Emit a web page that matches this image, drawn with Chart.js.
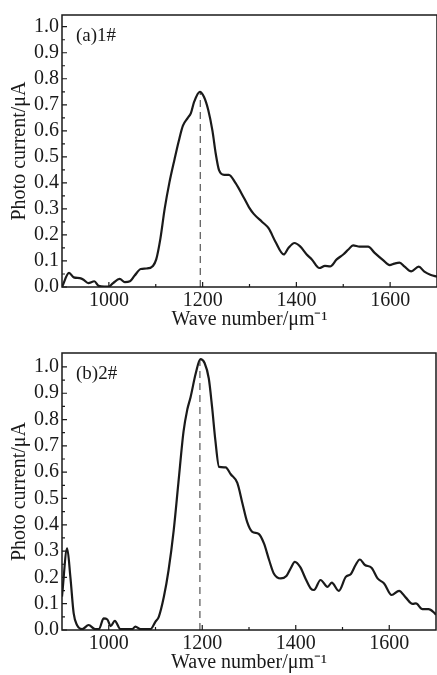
<!DOCTYPE html>
<html lang="en">
<head>
<meta charset="utf-8"/>
<title>Photo current vs wave number</title>
<script src="https://cdn.jsdelivr.net/npm/chart.js"></script>
<style>
    body {
        margin: 0;
        background-color: #ffffff;
    }
    .panel {
        position: absolute;
        left: 0;
        width: 437px;
    }
    #panelA { top: 0; height: 335px; }
    #panelB { top: 335px; height: 340px; }
</style>
</head>
<body>
<div class="panel" id="panelA"><canvas id="chartA"></canvas></div>
<div class="panel" id="panelB"><canvas id="chartB"></canvas></div>
<script>
    // (a) 1# sample
    const xA = [900, 915, 925, 938, 946, 956, 969, 978, 990, 1000, 1009, 1023, 1034, 1045, 1055, 1068, 1080, 1094, 1101, 1110,
                1119, 1129, 1140, 1149, 1158, 1168, 1175, 1182, 1194, 1203, 1212, 1221, 1228, 1235, 1246, 1256, 1270, 1288, 1299, 1309,
                1327, 1341, 1355, 1373, 1383, 1396, 1408, 1422, 1433, 1449, 1461, 1472, 1486, 1500, 1511, 1521, 1535, 1553, 1567, 1585,
                1599, 1609, 1620, 1631, 1645, 1661, 1673, 1687, 1700];
    const yA = [0.0, 0.054, 0.037, 0.034, 0.028, 0.015, 0.022, 0.005, 0.002, 0.002, 0.015, 0.031, 0.019, 0.022, 0.044, 0.069, 0.071, 0.081, 0.106, 0.187,
                0.30, 0.40, 0.49, 0.56, 0.62, 0.649, 0.668, 0.712, 0.75, 0.73, 0.68, 0.60, 0.512, 0.449, 0.431, 0.431, 0.40, 0.343, 0.306, 0.281,
                0.25, 0.225, 0.175, 0.125, 0.15, 0.169, 0.156, 0.125, 0.106, 0.073, 0.081, 0.079, 0.106, 0.125, 0.144, 0.16, 0.155, 0.155, 0.131, 0.103,
                0.084, 0.09, 0.094, 0.078, 0.06, 0.078, 0.059, 0.046, 0.04];
    const peakA = [1195, 0.75];

    // (b) 2# sample
    const xB = [900, 911, 918, 925, 932, 943, 957, 971, 979, 989, 997, 1004, 1013, 1025, 1050, 1057, 1068, 1089, 1100, 1107,
                1118, 1128, 1139, 1149, 1160, 1168, 1175, 1186, 1196, 1205, 1214, 1221, 1228, 1236, 1250, 1261, 1275, 1286, 1296, 1307,
                1321, 1332, 1343, 1353, 1368, 1380, 1389, 1398, 1410, 1421, 1432, 1439, 1453, 1468, 1477, 1492, 1507, 1518, 1528, 1537,
                1548, 1562, 1575, 1589, 1605, 1621, 1635, 1650, 1657, 1671, 1684, 1696, 1700];
    const yB = [0.127, 0.31, 0.20, 0.063, 0.019, 0.003, 0.019, 0.003, 0.003, 0.044, 0.04, 0.015, 0.035, 0.003, 0.003, 0.013, 0.003, 0.003, 0.032, 0.05,
                0.127, 0.228, 0.38, 0.56, 0.755, 0.838, 0.885, 0.975, 1.03, 1.015, 0.956, 0.848, 0.722, 0.62, 0.618, 0.592, 0.559, 0.481, 0.411, 0.373,
                0.365, 0.329, 0.266, 0.215, 0.196, 0.205, 0.234, 0.259, 0.238, 0.195, 0.158, 0.152, 0.19, 0.164, 0.18, 0.149, 0.202, 0.213, 0.247, 0.268,
                0.247, 0.237, 0.196, 0.177, 0.133, 0.149, 0.124, 0.099, 0.101, 0.079, 0.079, 0.066, 0.058];
    const peakB = [1195, 1.03];

    // axis ticks
    const xTicks = [1000, 1200, 1400, 1600];
    const xMinorTicks = [1100, 1300, 1500];
    const yTicks = [0.0, 0.1, 0.2, 0.3, 0.4, 0.5, 0.6, 0.7, 0.8, 0.9, 1.0];
    const yMinorTicks = [0.05, 0.15, 0.25, 0.35, 0.45, 0.55, 0.65, 0.75, 0.85, 0.95];

    const ink = '#1a1a1a';
    const serif = '"Liberation Serif", "Times New Roman", serif';
    Chart.defaults.font.family = serif;
    Chart.defaults.color = ink;

    // frame box, inward ticks and panel label
    const framePlugin = {
        id: 'frame',
        afterDatasetsDraw(chart, args, opts) {
            const ctx = chart.ctx;
            const a = chart.chartArea;
            const x = chart.scales.x;
            const y = chart.scales.y;
            ctx.save();
            ctx.strokeStyle = ink;
            ctx.lineWidth = 1.5;
            ctx.strokeRect(a.left, a.top, a.right - a.left, a.bottom - a.top);
            ctx.lineWidth = 1.2;
            ctx.beginPath();
            xTicks.forEach(v => { const p = x.getPixelForValue(v); ctx.moveTo(p, a.bottom); ctx.lineTo(p, a.bottom - 5); });
            xMinorTicks.forEach(v => { const p = x.getPixelForValue(v); ctx.moveTo(p, a.bottom); ctx.lineTo(p, a.bottom - 3); });
            yTicks.forEach(v => { const p = y.getPixelForValue(v); ctx.moveTo(a.left, p); ctx.lineTo(a.left + 5, p); });
            yMinorTicks.forEach(v => { const p = y.getPixelForValue(v); ctx.moveTo(a.left, p); ctx.lineTo(a.left + 3, p); });
            ctx.stroke();
            ctx.fillStyle = ink;
            ctx.font = '19px ' + serif;
            ctx.textBaseline = 'middle';
            ctx.fillText(opts.label, a.left + 14, a.top + 21);
            ctx.restore();
        }
    };

    function makeChart(id, xs, ys, peak, label, yMax, pad, xTitlePad) {
        const points = xs.map((v, i) => ({ x: v, y: ys[i] }));
        return new Chart(document.getElementById(id), {
            type: 'line',
            data: {
                datasets: [{
                    data: points,
                    borderColor: ink,
                    borderWidth: 2.2,
                    pointRadius: 0,
                    cubicInterpolationMode: 'monotone'
                }, {
                    data: [{ x: peak[0], y: 0 }, { x: peak[0], y: peak[1] }],
                    borderColor: '#555555',
                    borderWidth: 1.2,
                    borderDash: [7, 5],
                    pointRadius: 0
                }]
            },
            options: {
                responsive: true,
                maintainAspectRatio: false,
                animation: false,
                layout: { padding: pad },
                plugins: {
                    legend: { display: false },
                    tooltip: { enabled: false },
                    frame: { label: label }
                },
                scales: {
                    x: {
                        type: 'linear',
                        min: 900,
                        max: 1700,
                        afterBuildTicks: s => { s.ticks = xTicks.map(v => ({ value: v })); },
                        afterFit: s => { s.height = pad.xh; },
                        grid: { display: false, drawTicks: false },
                        border: { display: false },
                        ticks: { font: { size: 20 }, padding: 2, maxRotation: 0, callback: v => String(v) },
                        title: {
                            display: true,
                            text: 'Wave number/μm⁻¹',
                            font: { size: 20 },
                            padding: { top: 0, bottom: xTitlePad }
                        }
                    },
                    y: {
                        min: 0,
                        max: yMax,
                        afterBuildTicks: s => { s.ticks = yTicks.map(v => ({ value: v })); },
                        afterFit: s => { s.width = 62; },
                        grid: { display: false, drawTicks: false },
                        border: { display: false },
                        ticks: { font: { size: 20 }, padding: 3, callback: v => v.toFixed(1) },
                        title: {
                            display: true,
                            text: 'Photo current/μA',
                            font: { size: 20 },
                            padding: { top: 8, bottom: 0 }
                        }
                    }
                }
            },
            plugins: [framePlugin]
        });
    }

    makeChart('chartA', xA, yA, peakA, '(a)1#', 1.045, { top: 8, right: -3, left: 0, bottom: 0, xh: 48 }, 3);
    makeChart('chartB', xB, yB, peakB, '(b)2#', 1.053, { top: 18, right: 1, left: 0, bottom: 0, xh: 45 }, 0);
</script>
</body>
</html>
